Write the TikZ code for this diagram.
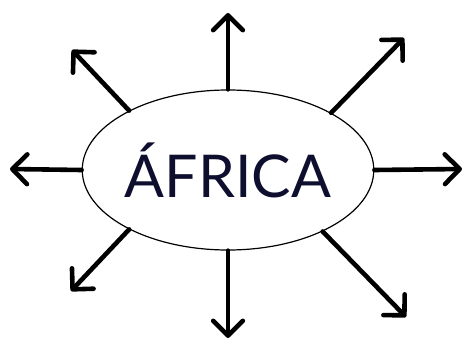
\documentclass[tikz,border=0pt]{standalone}
\usepackage{fontspec}
\newfontfamily\titlefont{Lato}
\usepackage{xcolor}
\definecolor{darktext}{HTML}{0E0E2E}
\usepackage{tikz}
\usetikzlibrary{positioning, calc, shapes.geometric, arrows.meta}

\begin{document}
\begin{tikzpicture}[x=1pt, y=1pt,
    ray/.style={line width=4.6pt, line cap=round, -{Straight Barb[angle=90:21pt, round]}},
    blob/.style={ellipse, draw=black, line width=1.2pt, fill=white, inner sep=0pt,
                 minimum width=249pt, minimum height=160pt}]
      % Frame
      \useasboundingbox (0,0) rectangle (465,341);

      % Central ellipse
      \node[blob] (africa) at (228,171) {\titlefont\fontsize{59}{70}\selectfont\color{darktext}ÁFRICA};

      % Arrow tips
      \coordinate (up) at (228,328);
      \coordinate (down) at (228,3);
      \coordinate (left) at (10,172);
      \coordinate (right) at (462,172);
      \coordinate (upleft) at (72,291);
      \coordinate (upright) at (404,303);
      \coordinate (downleft) at (71,50);
      \coordinate (downright) at (406,24);

      % Arrows
      \draw[ray] (africa.north) -- (up);
      \draw[ray] (africa.south) -- (down);
      \draw[ray] (africa.west) -- (left);
      \draw[ray] (africa.east) -- (right);
      \draw[ray] (africa.149) -- (upleft);
      \draw[ray] (africa.29) -- (upright);
      \draw[ray] (africa.211) -- (downleft);
      \draw[ray] (africa.327) -- (downright);
    \end{tikzpicture}
\end{document}
